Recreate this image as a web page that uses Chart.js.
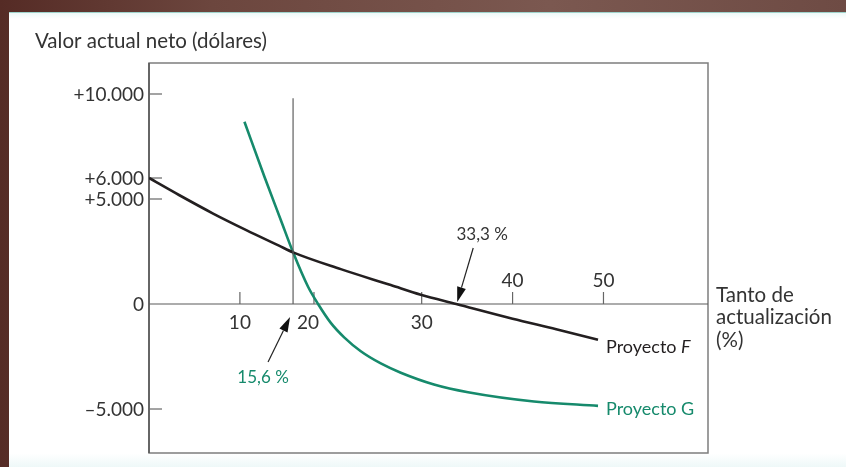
<!DOCTYPE html>
<html lang="es">
<head>
<meta charset="utf-8">
<title>Valor actual neto</title>
<script src="https://cdn.jsdelivr.net/npm/chart.js@4.4.1/dist/chart.umd.min.js"></script>
<style>
  html, body { margin: 0; padding: 0; }
  body {
    width: 846px; height: 467px; overflow: hidden; position: relative;
    background: linear-gradient(90deg, #552b25 0, #6c463e 25%, #7b5850 65%, #6e4b44 100%);
  }
  #hoja {
    position: absolute; left: 9px; top: 12px; right: 0; bottom: 0;
    background: linear-gradient(180deg, #eef9f8 0, #ffffff 6px, #ffffff 97%, #eef8f8 100%);
    border-top: 1px solid #9fd3cc;
  }
  #grafico { position: absolute; left: 0; top: 0; }
</style>
</head>
<body>
<div id="hoja"></div>
<canvas id="grafico" width="846" height="467"></canvas>
<script>
// Tanto de actualización (%) y VAN (dólares)
const tasaF = [0, 3.3, 7.0, 10.7, 14.3, 15.85, 21.1, 26.6, 29.9, 33.8, 40.0, 44.8, 49.4];
const vanF  = [6000, 5190, 4320, 3520, 2780, 2460, 1660, 900, 440, 0, -700, -1200, -1700];
const tasaG = [10.5, 12.7, 14.5, 15.85, 17.5, 18.6, 20.0, 21.5, 23.3, 25.5, 27.7, 31.35, 35.1, 42.35, 49.4];
const vanG  = [8680, 6060, 4000, 2460, 820, 0, -900, -1600, -2250, -2830, -3270, -3830, -4200, -4640, -4850];

// Punto de Fisher (cruce de F y G) y TIR de F
const tasaCruce = 15.85;
const topeCruce = 9800;
const tirF = 33.8;
const textoCruce = '15,6 %';
const textoTirF = '33,3 %';

// Ejes
const xTicks = [10, 18.15, 30, 40, 50];
const xTickLabels = ['10', '20', '30', '40', '50'];
const yTicks = [10000, 6000, 5000, 0, -5000];
const yTickLabels = ['+10.000', '+6.000', '+5.000', '0', '\u20135.000'];

const tituloY = 'Valor actual neto (dólares)';
const tituloX = ['Tanto de', 'actualización', '(%)'];
const nombreF = ['Proyecto ', 'F'];
const nombreG = 'Proyecto G';

const NEGRO = '#231f20';
const VERDE = '#168a6c';
const TEXTO = '#333333';
const FUENTE = 'Lato, "Open Sans", sans-serif';

const puntos = (xs, ys) => xs.map((x, i) => ({ x: x, y: ys[i] }));

// flecha con punta rellena
function flecha(ctx, x0, y0, x1, y1) {
    const ang = Math.atan2(y1 - y0, x1 - x0);
    const largo = 15, ancho = 4.5;
    const bx = x1 - largo * Math.cos(ang), by = y1 - largo * Math.sin(ang);
    ctx.strokeStyle = '#222';
    ctx.lineWidth = 1.2;
    ctx.beginPath();
    ctx.moveTo(x0, y0);
    ctx.lineTo(bx, by);
    ctx.stroke();
    ctx.fillStyle = '#111';
    ctx.beginPath();
    ctx.moveTo(x1, y1);
    ctx.lineTo(bx + ancho * Math.sin(ang), by - ancho * Math.cos(ang));
    ctx.lineTo(bx - ancho * Math.sin(ang), by + ancho * Math.cos(ang));
    ctx.closePath();
    ctx.fill();
}

const figura = {
    id: 'figura',
    beforeDatasetsDraw(chart) {
        const { ctx, chartArea: a, scales: { x, y } } = chart;
        const y0 = y.getPixelForValue(0);
        ctx.save();
        // marco
        ctx.strokeStyle = '#7d7d7d';
        ctx.lineWidth = 1.5;
        ctx.strokeRect(a.left, a.top, a.right - a.left, a.bottom - a.top);
        ctx.strokeStyle = '#555';
        ctx.beginPath();
        ctx.moveTo(a.left, a.top);
        ctx.lineTo(a.left, a.bottom);
        ctx.stroke();
        // eje horizontal en VAN = 0
        ctx.strokeStyle = '#5a5a5a';
        ctx.lineWidth = 1.2;
        ctx.beginPath();
        ctx.moveTo(a.left, y0);
        ctx.lineTo(a.right, y0);
        ctx.stroke();

        ctx.font = '19px ' + FUENTE;
        ctx.fillStyle = TEXTO;
        // marcas del eje Y
        ctx.textAlign = 'right';
        ctx.textBaseline = 'middle';
        yTicks.forEach((v, i) => {
            const py = y.getPixelForValue(v);
            if (v !== 0) {
                ctx.strokeStyle = '#666';
                ctx.lineWidth = 1.2;
                ctx.beginPath();
                ctx.moveTo(a.left, py);
                ctx.lineTo(a.left + 13, py);
                ctx.stroke();
            }
            ctx.fillText(yTickLabels[i], a.left - 5, py + 1);
        });
        // marcas del eje X
        ctx.textAlign = 'center';
        xTicks.forEach((v, i) => {
            const px = x.getPixelForValue(v);
            ctx.strokeStyle = '#666';
            ctx.lineWidth = 1.2;
            ctx.beginPath();
            ctx.moveTo(px, y0);
            ctx.lineTo(px, y0 - 12);
            ctx.stroke();
            const arriba = v >= 40;
            ctx.fillText(xTickLabels[i], px - (i === 1 ? 6 : 0), arriba ? y0 - 23 : y0 + 19);
        });
        ctx.restore();
    },
    afterDatasetsDraw(chart) {
        const { ctx, chartArea: a, scales: { x, y } } = chart;
        const y0 = y.getPixelForValue(0);
        ctx.save();
        ctx.font = '20.5px ' + FUENTE;
        ctx.fillStyle = TEXTO;
        ctx.textBaseline = 'middle';
        ctx.textAlign = 'left';
        ctx.fillText(tituloY, 35, 41);
        tituloX.forEach((t, i) => ctx.fillText(t, a.right + 8, y0 - 9 + i * 22.5));

        // nombres de las series
        ctx.font = '18px ' + FUENTE;
        const fx = x.getPixelForValue(tasaF[tasaF.length - 1]) + 8;
        const fy = y.getPixelForValue(vanF[vanF.length - 1]) + 7;
        ctx.fillStyle = NEGRO;
        ctx.fillText(nombreF[0], fx, fy);
        const w = ctx.measureText(nombreF[0]).width;
        ctx.font = 'italic 18px ' + FUENTE;
        ctx.fillText(nombreF[1], fx + w, fy);
        ctx.font = '18px ' + FUENTE;
        ctx.fillStyle = VERDE;
        ctx.fillText(nombreG, x.getPixelForValue(tasaG[tasaG.length - 1]) + 8,
                     y.getPixelForValue(vanG[vanG.length - 1]) + 3);

        // anotaciones con flecha
        ctx.font = '17px ' + FUENTE;
        ctx.textAlign = 'center';
        const tx = x.getPixelForValue(tirF);
        flecha(ctx, tx + 17, y0 - 56, tx + 1, y0 - 2);
        ctx.fillStyle = TEXTO;
        ctx.fillText(textoTirF, tx + 26, y0 - 69);

        const cx = x.getPixelForValue(tasaCruce);
        flecha(ctx, cx - 25, y0 + 58, cx - 3, y0 + 13);
        ctx.fillStyle = VERDE;
        ctx.fillText(textoCruce, cx - 30, y0 + 74);
        ctx.restore();
    }
};

new Chart(document.getElementById('grafico'), {
    type: 'scatter',
    data: {
        datasets: [
            {
                label: 'Cruce',
                data: puntos([tasaCruce, tasaCruce], [0, topeCruce]),
                showLine: true,
                borderColor: '#5f5f5f',
                borderWidth: 1.2,
                pointRadius: 0
            },
            {
                label: 'Proyecto F',
                data: puntos(tasaF, vanF),
                showLine: true,
                borderColor: NEGRO,
                borderWidth: 2.6,
                pointRadius: 0,
                cubicInterpolationMode: 'monotone'
            },
            {
                label: 'Proyecto G',
                data: puntos(tasaG, vanG),
                showLine: true,
                borderColor: VERDE,
                borderWidth: 2.6,
                pointRadius: 0,
                cubicInterpolationMode: 'monotone'
            }
        ]
    },
    options: {
        responsive: false,
        animation: false,
        layout: { padding: { left: 149, top: 63, right: 138, bottom: 14 } },
        plugins: { legend: { display: false }, tooltip: { enabled: false } },
        scales: {
            x: { type: 'linear', display: false, min: 0, max: 61.5 },
            y: { type: 'linear', display: false, min: -7095, max: 11476 }
        }
    },
    plugins: [figura]
});
</script>
</body>
</html>
